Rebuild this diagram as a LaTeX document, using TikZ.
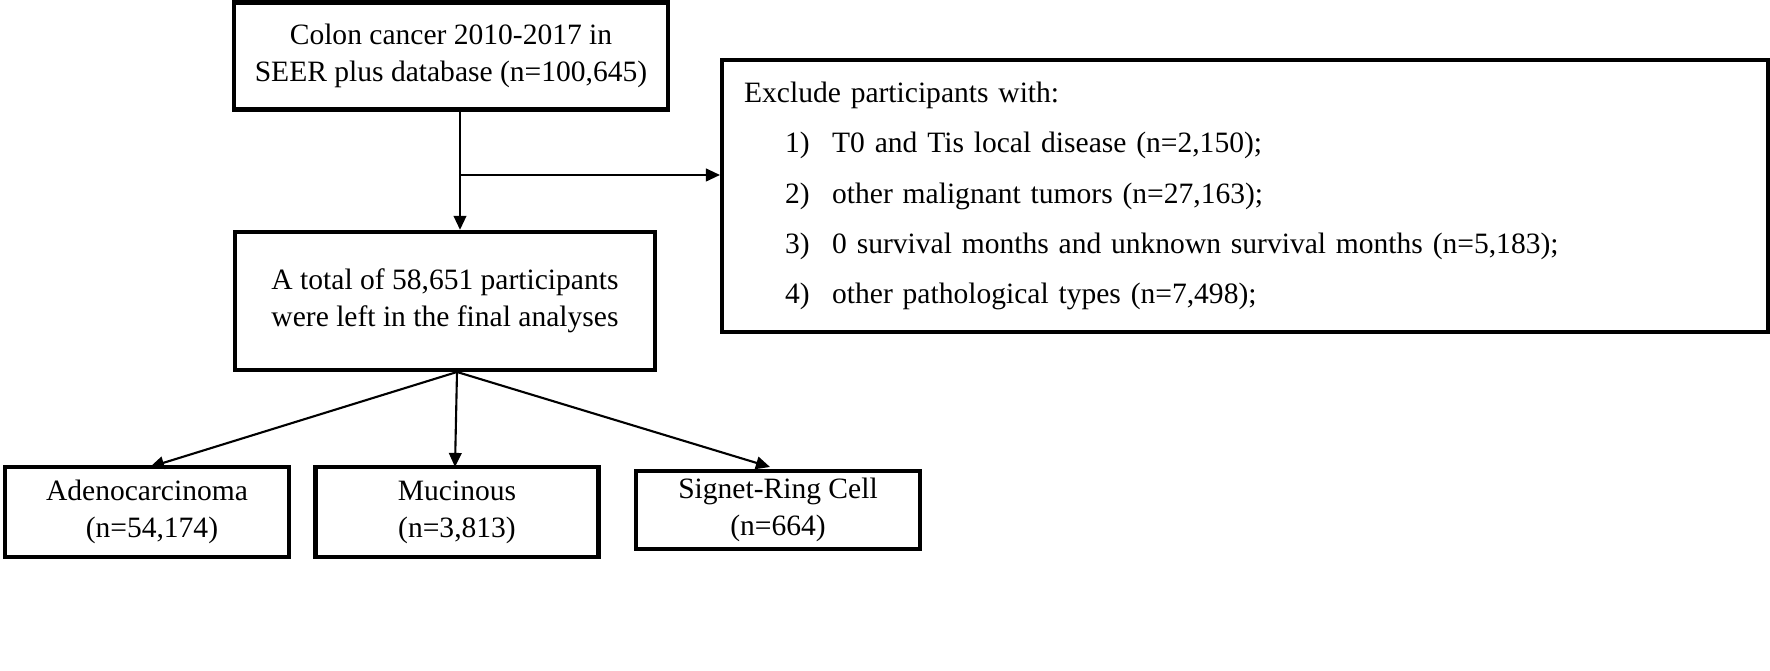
\documentclass[tikz,border=0pt]{standalone}
\usepackage{fontspec}
\setmainfont{Liberation Serif}
\usetikzlibrary{arrows.meta}
\newcommand{\exitem}[2]{\makebox[0.41cm]{}\makebox[0.47cm][l]{#1}#2}
\begin{document}
\begin{tikzpicture}[x=0.01cm,y=-0.01cm,thick,
    box/.style={draw,line width=1.2pt,inner sep=0pt,align=center,font=\fontsize{8.4}{10.5}\selectfont},
    arr/.style={-{Triangle[length=4pt,width=3.6pt]},line width=0.6pt}]
    \useasboundingbox (0,0) rectangle (1770,671);

    \node[box,minimum width=4.33cm,minimum height=1.07cm] (source) at (451,56) {Colon cancer 2010-2017 in\\SEER plus database (n=100,645)};
    \node[box,minimum width=4.19cm,minimum height=1.38cm,align=left] (final) at (445,301) {A total of 58,651 participants\\were left in the final analyses};
    \node[box,text width=10.01cm,inner sep=0.22cm,minimum height=2.67cm,anchor=north west,align=left,
        font=\fontsize{8.4}{14.3}\selectfont] (exclude) at (720,58)
        {Exclude participants with:\\
        \exitem{1)}{T0 and Tis local disease (n=2,150);}\\
        \exitem{2)}{other malignant tumors (n=27,163);}\\
        \exitem{3)}{0 survival months and unknown survival months (n=5,183);}\\
        \exitem{4)}{other pathological types (n=7,498);}};

    \node[box,minimum width=2.84cm,minimum height=0.9cm] (adeno) at (147,512) {Adenocarcinoma\\\,\,(n=54,174)};
    \node[box,minimum width=2.83cm,minimum height=0.9cm] (mucin) at (457,512) {Mucinous\\(n=3,813)};
    \node[box,minimum width=2.84cm,minimum height=0.78cm] (signet) at (778,510) {Signet-Ring Cell\\(n=664)};

    \coordinate (split) at (460,175);
    \draw[arr] (source.south -| split) -- (final.north -| split);
    \draw[arr] (split) -- (exclude.west |- split);
    \coordinate (fork) at (457,372);
    \draw[arr] (fork) -- (150,467);
    \draw[arr] (fork) -- (455,467);
    \draw[arr] (fork) -- (770,467);
\end{tikzpicture}
\end{document}
